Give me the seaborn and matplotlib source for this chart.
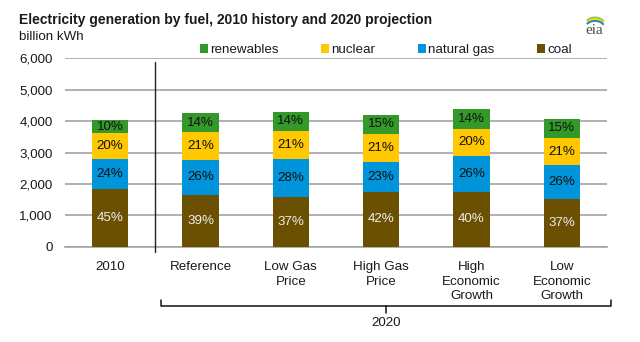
import numpy as np
import pandas as pd
import matplotlib
matplotlib.use("Agg")
import matplotlib.pyplot as plt
import seaborn as sns
from matplotlib.patches import Patch, Arc
from matplotlib.transforms import blended_transform_factory

# ---- data -------------------------------------------------------------
categories = ["2010", "Reference", "Low Gas\nPrice", "High Gas\nPrice",
              "High\nEconomic\nGrowth", "Low\nEconomic\nGrowth"]
totals = [4025, 4250, 4294, 4209, 4377, 4082]          # billion kWh
coal_pct = [45, 39, 37, 42, 40, 37]
gas_pct = [24, 26, 28, 23, 26, 26]
nuclear_pct = [20, 21, 21, 21, 20, 21]
renew_pct = [10, 14, 14, 15, 14, 15]

fuels = ["coal", "natural gas", "nuclear", "renewables"]
fuel_colors = {"coal": "#6A5000", "natural gas": "#0095DA",
               "nuclear": "#FFC800", "renewables": "#339A2A"}
label_colors = {"coal": "#EDEDED", "natural gas": "#111111",
                "nuclear": "#111111", "renewables": "#111111"}

pct = pd.DataFrame({"coal": coal_pct, "natural gas": gas_pct,
                    "nuclear": nuclear_pct, "renewables": renew_pct},
                   index=categories)
# segment heights: each share of the total generation
seg = pct.div(pct.sum(axis=1), axis=0).mul(totals, axis=0)
top = seg.cumsum(axis=1)
bottom = top - seg

# ---- style ------------------------------------------------------------
sns.set_theme(style="white")
plt.rcParams["font.family"] = ["Liberation Sans", "DejaVu Sans"]
plt.rcParams["text.color"] = "#1a1a1a"

W, H = 640, 342
fig = plt.figure(figsize=(W / 100, H / 100), dpi=100)
ax = fig.add_axes([65 / W, 1 - 246.8 / H, 542 / W, (246.8 - 58.3) / H])

# stacked bars: draw cumulative totals from the top layer down
for fuel in reversed(fuels):
    df = pd.DataFrame({"category": categories, "value": top[fuel].values})
    sns.barplot(data=df, x="category", y="value", order=categories,
                color=fuel_colors[fuel], saturation=1, width=0.4,
                errorbar=None, linewidth=0, ax=ax, zorder=3)

for i, cat in enumerate(categories):
    for fuel in fuels:
        mid = bottom.loc[cat, fuel] + seg.loc[cat, fuel] / 2
        ax.text(i, mid, f"{pct.loc[cat, fuel]}%", ha="center", va="center",
                fontsize=9.6, color=label_colors[fuel], zorder=4)

ax.set_xlim(-0.5, 5.5)
ax.set_ylim(0, 6000)
ax.set_xlabel("")
ax.set_ylabel("")

ax.set_yticks(np.arange(0, 6001, 1000))
ax.set_yticklabels([f"{v:,}" for v in range(0, 6001, 1000)])
ax.yaxis.grid(True, color="#A3A3A3", linewidth=1.2)
ax.set_axisbelow(True)
ax.tick_params(axis="y", length=0, pad=9, labelsize=9.6, labelcolor="#1a1a1a")

ax.set_xticks(range(len(categories)))
ax.set_xticklabels(categories, linespacing=1.32)
ax.set_xticks(np.arange(-0.5, 5.6, 1.0), minor=True)
ax.tick_params(axis="x", which="major", length=0, pad=10, labelsize=9.6,
               labelcolor="#1a1a1a")
ax.tick_params(axis="x", which="minor", length=5, width=1.1, color="#A3A3A3",
               direction="out")

for side in ["left", "right", "top"]:
    ax.spines[side].set_visible(False)
ax.spines["bottom"].set_color("#A3A3A3")
ax.spines["bottom"].set_linewidth(1.2)

# divider between history and projections
tr = blended_transform_factory(ax.transData, fig.transFigure)
ax.plot([0.5, 0.5], [1 - 62 / H, 1 - 252 / H], transform=tr, color="#222222",
        linewidth=1.0, clip_on=False, zorder=5)

# bracket grouping the 2020 cases
xl, xr = 0.565, 5.545
xm = (xl + xr) / 2
yb, yh, yt = 1 - 306 / H, 1 - 300 / H, 1 - 313 / H
ax.plot([xl, xl, xr, xr], [yh, yb, yb, yh], transform=tr, color="#111111",
        linewidth=1.1, clip_on=False)
ax.plot([xm, xm], [yb, yt], transform=tr, color="#111111", linewidth=1.1,
        clip_on=False)
ax.text(xm, 1 - 323 / H, "2020", transform=tr, ha="center", va="center",
        fontsize=9.6)

# title and units
fig.text(19 / W, 1 - 20 / H,
         "Electricity generation by fuel, 2010 history and 2020 projection",
         fontsize=10, fontweight="bold", ha="left", va="center")
fig.text(19 / W, 1 - 37 / H, "billion kWh", fontsize=9.6, ha="left",
         va="center")

# legend
handles = [Patch(facecolor=fuel_colors[f], edgecolor="none", label=f)
           for f in ["renewables", "nuclear", "natural gas", "coal"]]
fig.legend(handles=handles, ncol=4, loc="center",
           bbox_to_anchor=(386 / W, 1 - 50 / H), frameon=False,
           fontsize=9.6, handlelength=0.6, handleheight=0.6,
           handletextpad=0.15, columnspacing=3.2, borderpad=0)

# small eia mark: lowercase letters under three coloured swooshes
lax = fig.add_axes([580 / W, 1 - 38 / H, 30 / W, 28 / H])
lax.set_xlim(0, 30)
lax.set_ylim(0, 28)
lax.axis("off")
lax.text(14, 7, "eia", fontsize=11, family="Liberation Serif",
         color="#4d4d4d", ha="center", va="center")
for dy, c in [(2.5, "#8CC63F"), (0.8, "#FFD200"), (-0.9, "#1E88D6")]:
    lax.add_patch(Arc((15, 10 + dy), 20, 16, theta1=25, theta2=150,
                      color=c, linewidth=1.4))

fig.savefig("out.png", dpi=100)
